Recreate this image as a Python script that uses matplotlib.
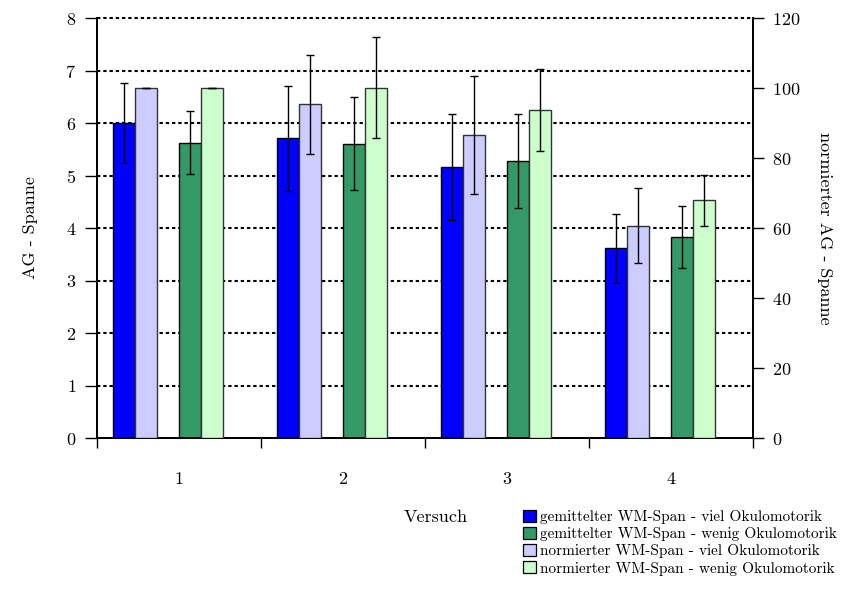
import numpy as np
import matplotlib
matplotlib.use("Agg")
from matplotlib import pyplot as plt
from matplotlib.patches import Patch

plt.rcParams["font.family"] = "cmr10"
plt.rcParams["mathtext.fontset"] = "cm"
plt.rcParams["axes.formatter.use_mathtext"] = True

versuch = ["1", "2", "3", "4"]

# gemittelte Spanne (linke Achse)
viel_mean = [6.0, 5.71, 5.16, 3.61]
viel_err = [0.76, 1.0, 1.01, 0.65]
wenig_mean = [5.62, 5.61, 5.28, 3.82]
wenig_err = [0.6, 0.89, 0.9, 0.59]

# normierte Spanne (rechte Achse)
viel_norm = [100.0, 95.3, 86.6, 60.7]
viel_norm_err = [0.0, 14.2, 16.9, 10.8]
wenig_norm = [100.0, 100.1, 93.7, 67.9]
wenig_norm_err = [0.0, 14.4, 11.7, 7.2]

labels = ["gemittelter WM-Span - viel Okulomotorik",
          "gemittelter WM-Span - wenig Okulomotorik",
          "normierter WM-Span - viel Okulomotorik",
          "normierter WM-Span - wenig Okulomotorik"]
colors = ["#0000FF", "#339966", "#CCCCFF", "#CCFFCC"]

fig = plt.figure(figsize=(8.41, 5.97), dpi=100)
ax = fig.add_axes([0.1153, 0.2663, 0.78, 0.7035])
ax2 = ax.twinx()

x = np.arange(len(versuch))
w = 0.135
ekw = dict(ecolor="black", elinewidth=1.0, capsize=3, capthick=1.0)

ax.bar(x - 0.336, viel_mean, w, yerr=viel_err, color=colors[0],
       edgecolor="black", linewidth=1.0, zorder=3, error_kw=ekw)
ax.bar(x + 0.068, wenig_mean, w, yerr=wenig_err, color=colors[1],
       edgecolor="black", linewidth=1.0, zorder=3, error_kw=ekw)
ax2.bar(x - 0.201, viel_norm, w, yerr=viel_norm_err, color=colors[2],
        edgecolor="#333333", linewidth=1.0, zorder=3, error_kw=ekw)
ax2.bar(x + 0.203, wenig_norm, w, yerr=wenig_norm_err, color=colors[3],
        edgecolor="#333333", linewidth=1.0, zorder=3, error_kw=ekw)

# gepunktete Hilfslinien
for yv in range(1, 9):
    ax.axhline(yv, color="black", linewidth=1.5, linestyle=(0, (1.6, 1.4)),
               zorder=1, clip_on=False)

ax.set_xlim(-0.5, len(versuch) - 0.5)
ax.set_ylim(0, 8)
ax2.set_ylim(0, 120)
ax.set_yticks(range(0, 9))
ax2.set_yticks(range(0, 121, 20))

ax.set_xticks(np.arange(-0.5, len(versuch)), [])
ax.set_xticks(x, versuch, minor=True)
ax.tick_params(axis="x", which="major", length=7, direction="out", width=1)
ax.tick_params(axis="x", which="minor", length=0, pad=24, labelsize=13)
ax.tick_params(axis="y", length=9, width=1, direction="out", labelsize=13,
               pad=6)
ax2.tick_params(axis="y", length=8, width=1, direction="out", labelsize=13,
                pad=6)

for a in (ax, ax2):
    a.spines["top"].set_visible(False)
    for s in ("left", "right", "bottom"):
        a.spines[s].set_linewidth(1.3)

fig.text(0.036, 0.618, "AG - Spanne", rotation=90, ha="center",
         va="center", fontsize=13)
fig.text(0.981, 0.618, "normierter AG - Spanne", rotation=270,
         ha="center", va="center", fontsize=13)
fig.text(0.518, 0.134, "Versuch", ha="center", va="center", fontsize=13)

handles = [Patch(facecolor=c, edgecolor="black", linewidth=0.9)
           for c in colors]
fig.legend(handles, labels, loc="upper left", bbox_to_anchor=(0.622, 0.146),
           frameon=False, fontsize=11, handlelength=0.85, handleheight=0.8,
           handletextpad=0.25, labelspacing=0.2, borderaxespad=0,
           borderpad=0)

fig.savefig("out.png", dpi=100)
